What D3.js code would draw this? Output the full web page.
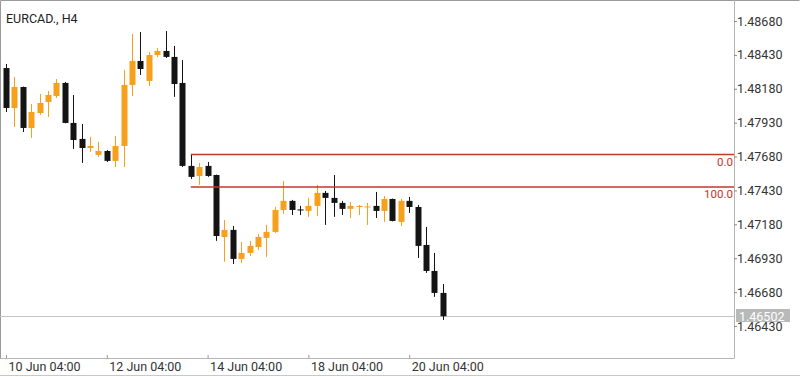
<!DOCTYPE html>
<html>
<head>
<meta charset="utf-8">
<script src="https://d3js.org/d3.v7.min.js"></script>
<style>
  body { margin: 0; background: #fff; }
  text { font-family: Roboto, "Noto Sans", sans-serif; }
</style>
</head>
<body>
<script>

// EURCAD H4 candles
var open  = [1.48333, 1.48038, 1.48193, 1.47891, 1.48001, 1.48083, 1.48127, 1.48223, 1.47928, 1.47810,
             1.47743, 1.47692, 1.47721, 1.47648, 1.47758, 1.48208, 1.48385, 1.48238, 1.48429, 1.48459,
             1.48415, 1.48223, 1.47611, 1.47537, 1.47611, 1.47544, 1.47087, 1.47139, 1.46925, 1.46969,
             1.47013, 1.47080, 1.47124, 1.47286, 1.47353, 1.47290, 1.47279, 1.47316, 1.47412, 1.47375,
             1.47338, 1.47294, 1.47308, 1.47305, 1.47316, 1.47279, 1.47367, 1.47198, 1.47353, 1.47308,
             1.47028, 1.46836, 1.46674];
var high  = [1.48363, 1.48267, 1.48196, 1.48068, 1.48142, 1.48164, 1.48252, 1.48230, 1.48134, 1.47920,
             1.47825, 1.47788, 1.47729, 1.47832, 1.48319, 1.48584, 1.48599, 1.48451, 1.48481, 1.48606,
             1.48496, 1.48392, 1.47699, 1.47633, 1.47640, 1.47547, 1.47212, 1.47168, 1.47050, 1.47058,
             1.47109, 1.47176, 1.47308, 1.47500, 1.47360, 1.47316, 1.47375, 1.47471, 1.47426, 1.47544,
             1.47353, 1.47345, 1.47323, 1.47338, 1.47419, 1.47389, 1.47370, 1.47367, 1.47382, 1.47323,
             1.47161, 1.46969, 1.46740];
var low   = [1.48009, 1.47898, 1.47861, 1.47817, 1.47987, 1.47972, 1.48112, 1.47925, 1.47736, 1.47633,
             1.47714, 1.47677, 1.47640, 1.47603, 1.47603, 1.48127, 1.48282, 1.48201, 1.48415, 1.48407,
             1.48120, 1.47603, 1.47515, 1.47471, 1.47530, 1.47058, 1.46903, 1.46888, 1.46895, 1.46947,
             1.46991, 1.46940, 1.47117, 1.47257, 1.47249, 1.47249, 1.47235, 1.47242, 1.47176, 1.47235,
             1.47249, 1.47227, 1.47249, 1.47176, 1.47227, 1.47198, 1.47202, 1.47168, 1.47264, 1.46932,
             1.46822, 1.46645, 1.46475];
var close = [1.48038, 1.48193, 1.47891, 1.48009, 1.48075, 1.48134, 1.48223, 1.47928, 1.47802, 1.47743,
             1.47758, 1.47721, 1.47648, 1.47758, 1.48208, 1.48385, 1.48326, 1.48429, 1.48459, 1.48415,
             1.48215, 1.47611, 1.47530, 1.47603, 1.47537, 1.47094, 1.47139, 1.46925, 1.46969, 1.47021,
             1.47087, 1.47124, 1.47286, 1.47353, 1.47286, 1.47282, 1.47316, 1.47412, 1.47375, 1.47338,
             1.47294, 1.47316, 1.47316, 1.47312, 1.47279, 1.47367, 1.47205, 1.47353, 1.47308, 1.47021,
             1.46836, 1.46674, 1.46502];

var timeLabels = ["10 Jun 04:00", "12 Jun 04:00", "14 Jun 04:00", "18 Jun 04:00", "20 Jun 04:00"];
var timeIndex  = [0, 12, 24, 36, 48];
var priceTicks = [1.48680, 1.48430, 1.48180, 1.47930, 1.47680, 1.47430, 1.47180, 1.46930, 1.46680, 1.46430];
var fibLevels  = [1.47695, 1.47455];
var fibLabels  = ["0.0", "100.0"];
var fibStart   = 22;
var lastPrice  = 1.46502;

var width = 800, height = 377,
    plotRight = 734, plotBottom = 358;

var svg = d3.select("body").append("svg")
    .attr("width", width)
    .attr("height", height);

svg.append("rect")
    .attr("width", width).attr("height", height)
    .attr("fill", "#fff");

var x = d3.scaleLinear()
    .domain([0, open.length - 1])
    .range([6, 6 + 8.4 * (open.length - 1)]);

var y = d3.scaleLinear()
    .domain([1.46430, 1.48680])
    .range([326, 21]);

// frame
svg.append("path")
    .attr("d", "M0.5," + plotBottom + "V0.5H" + (width - 0.5))
    .attr("fill", "none").attr("stroke", "#9a9a9a");
svg.append("path")
    .attr("d", "M0," + (plotBottom + 0.5) + "H" + (plotRight + 0.5) + "V0")
    .attr("fill", "none").attr("stroke", "#b5b5b5");
svg.append("line")
    .attr("x1", 0).attr("x2", width)
    .attr("y1", height - 1.5).attr("y2", height - 1.5)
    .attr("stroke", "#c8c8c8");

// title
svg.append("text")
    .attr("x", 6).attr("y", 23)
    .attr("font-size", 12.5)
    .attr("fill", "#222")
    .text("EURCAD., H4");

// current price line
svg.append("line")
    .attr("x1", 0).attr("x2", plotRight)
    .attr("y1", Math.round(y(lastPrice)) + 0.5)
    .attr("y2", Math.round(y(lastPrice)) + 0.5)
    .attr("stroke", "#c4c4c4");

// candles
var idx = d3.range(open.length);
var candle = svg.append("g").selectAll("g")
    .data(idx)
    .enter().append("g")
    .attr("stroke", function(i) { return close[i] >= open[i] ? "#f7a01c" : "#141414"; })
    .attr("fill", function(i) { return close[i] >= open[i] ? "#f7a01c" : "#141414"; });

candle.append("line")
    .attr("x1", function(i) { return Math.round(x(i)) + 0.5; })
    .attr("x2", function(i) { return Math.round(x(i)) + 0.5; })
    .attr("y1", function(i) { return y(high[i]); })
    .attr("y2", function(i) { return y(low[i]); });

candle.append("rect")
    .attr("stroke", "none")
    .attr("x", function(i) { return Math.round(x(i)) - 2.5; })
    .attr("width", 6)
    .attr("y", function(i) { return y(Math.max(open[i], close[i])); })
    .attr("height", function(i) { return Math.max(1, y(Math.min(open[i], close[i])) - y(Math.max(open[i], close[i]))); });

// fibonacci levels
var fib = svg.append("g").selectAll("g")
    .data(fibLevels)
    .enter().append("g");

fib.append("line")
    .attr("x1", x(fibStart)).attr("x2", plotRight)
    .attr("y1", function(d) { return y(d); })
    .attr("y2", function(d) { return y(d); })
    .attr("stroke", "#c0392b")
    .attr("stroke-width", 1.6);

fib.append("text")
    .attr("x", plotRight - 1)
    .attr("y", function(d) { return y(d) + 11; })
    .attr("text-anchor", "end")
    .attr("font-size", 11.5)
    .attr("fill", "#c0392b")
    .text(function(d, i) { return fibLabels[i]; });

// price axis
var yAxis = svg.append("g")
    .attr("transform", "translate(" + plotRight + ",0)")
    .call(d3.axisRight(y)
        .tickValues(priceTicks)
        .tickSize(3)
        .tickPadding(0)
        .tickFormat(d3.format(".5f")));
yAxis.select(".domain").remove();
yAxis.selectAll("line").attr("stroke", "#888");
yAxis.selectAll("text")
    .attr("font-size", 12.5)
    .attr("font-family", "Roboto, sans-serif")
    .attr("fill", "#333");

// last price tag
var tag = svg.append("g")
    .attr("transform", "translate(" + (plotRight + 2) + "," + Math.round(y(lastPrice)) + ")");
tag.append("rect")
    .attr("x", 0).attr("y", -7)
    .attr("width", 54).attr("height", 13)
    .attr("fill", "#b9b9b9");
tag.append("text")
    .attr("x", 3).attr("y", 4.5)
    .attr("font-size", 12.5)
    .attr("fill", "#fff")
    .text(d3.format(".5f")(lastPrice));

// time axis
var xAxis = svg.append("g")
    .attr("transform", "translate(0," + plotBottom + ")")
    .call(d3.axisBottom(x)
        .tickValues(timeIndex)
        .tickSize(3)
        .tickFormat(function(d, i) { return timeLabels[i]; }));
xAxis.select(".domain").remove();
xAxis.selectAll("line").attr("stroke", "#999")
    .attr("transform", "translate(0,-3)");
xAxis.selectAll("text")
    .attr("text-anchor", "start")
    .attr("dx", 2)
    .attr("y", 4)
    .attr("font-size", 12.5)
    .attr("font-family", "Roboto, sans-serif")
    .attr("fill", "#333");

</script>
</body>
</html>
